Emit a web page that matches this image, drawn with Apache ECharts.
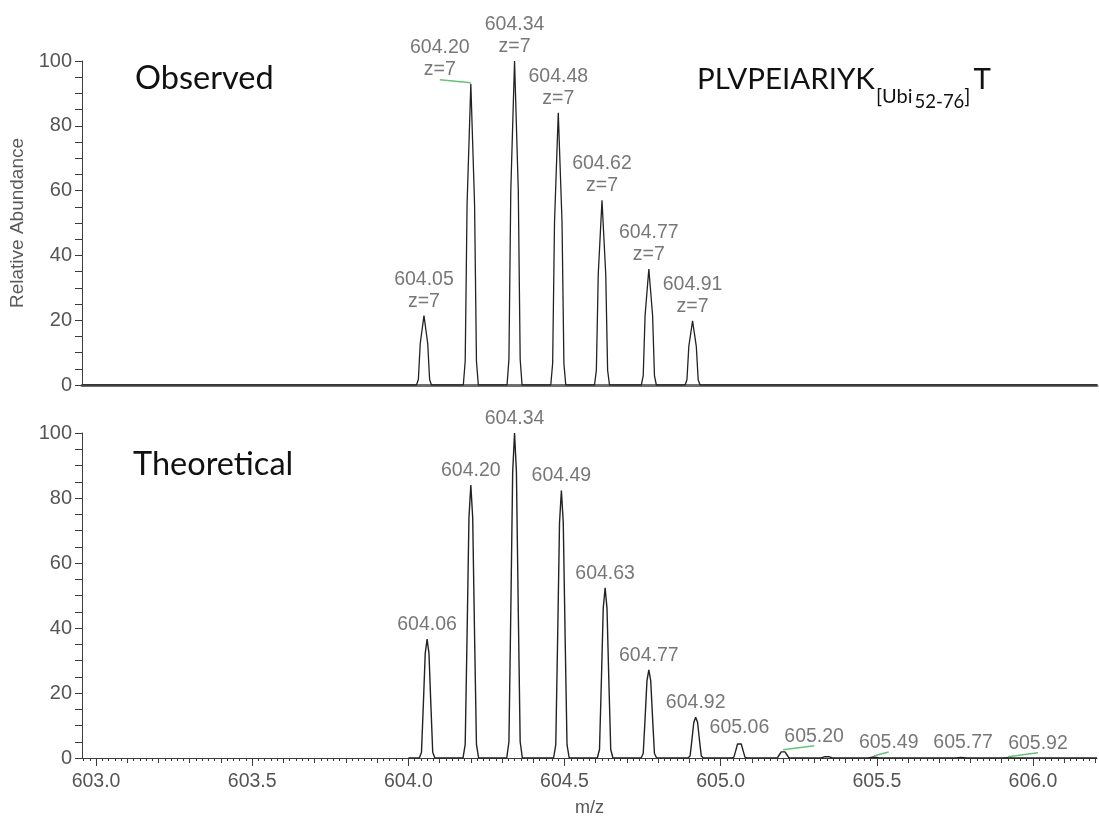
<!DOCTYPE html>
<html>
<head>
<meta charset="utf-8">
<script src="https://cdn.jsdelivr.net/npm/echarts@6/dist/echarts.min.js"></script>
<style>
  html, body { margin: 0; padding: 0; background: #ffffff; }
  #chart { width: 1099px; height: 820px; }
</style>
</head>
<body>
<div id="chart"></div>
<script>
// ---- Observed isotope cluster (centroid m/z, relative abundance, charge) ----
const observedMz = [604.05, 604.20, 604.34, 604.48, 604.62, 604.77, 604.91];
const observedAbundance = [21.4, 93.0, 100, 84.0, 57.0, 35.8, 19.8];
const observedCharge = [7, 7, 7, 7, 7, 7, 7];

// Observed profile trace [m/z, relative abundance]
const observedProfile = [
  [602.955, 0],
  [604.026, 0], [604.032, 1.7], [604.038, 12.8], [604.05, 21.4], [604.062, 12.8], [604.068, 1.7], [604.074, 0],
  [604.176, 0], [604.182, 7.4], [604.188, 55.8], [604.20, 93.0], [604.212, 55.8], [604.218, 7.4], [604.224, 0],
  [604.316, 0], [604.322, 8.0], [604.328, 60.0], [604.34, 100], [604.352, 60.0], [604.358, 8.0], [604.364, 0],
  [604.456, 0], [604.462, 6.7], [604.468, 50.4], [604.48, 84.0], [604.492, 50.4], [604.498, 6.7], [604.504, 0],
  [604.596, 0], [604.602, 4.6], [604.608, 34.2], [604.62, 57.0], [604.632, 34.2], [604.638, 4.6], [604.644, 0],
  [604.746, 0], [604.752, 2.9], [604.758, 21.5], [604.77, 35.8], [604.782, 21.5], [604.788, 2.9], [604.794, 0],
  [604.886, 0], [604.892, 1.6], [604.898, 11.9], [604.91, 19.8], [604.922, 11.9], [604.928, 1.6], [604.934, 0],
  [606.205, 0]
];

// ---- Theoretical isotope distribution ----
const theoreticalMz = [604.06, 604.20, 604.34, 604.49, 604.63, 604.77, 604.92, 605.06, 605.20, 605.49, 605.77, 605.92];
const theoreticalAbundance = [36.6, 84.0, 100, 82.3, 52.4, 27.1, 12.5, 4.9, 2.2, 0.3, 0.15, 0.1];

// Theoretical profile trace [m/z, relative abundance]
const theoreticalProfile = [
  [604.000, 0],
  [604.035, 0], [604.042, 1.8], [604.048, 16.5], [604.054, 32.2], [604.06, 36.6], [604.066, 32.2], [604.072, 16.5], [604.078, 1.8], [604.085, 0],
  [604.175, 0], [604.182, 4.2], [604.188, 37.8], [604.194, 73.9], [604.20, 84.0], [604.206, 73.9], [604.212, 37.8], [604.218, 4.2], [604.225, 0],
  [604.315, 0], [604.322, 5.0], [604.328, 45.0], [604.334, 88.0], [604.34, 100], [604.346, 88.0], [604.352, 45.0], [604.358, 5.0], [604.365, 0],
  [604.465, 0], [604.472, 4.1], [604.478, 37.0], [604.484, 72.4], [604.49, 82.3], [604.496, 72.4], [604.502, 37.0], [604.508, 4.1], [604.515, 0],
  [604.605, 0], [604.612, 2.6], [604.618, 23.6], [604.624, 46.1], [604.63, 52.4], [604.636, 46.1], [604.642, 23.6], [604.648, 2.6], [604.655, 0],
  [604.745, 0], [604.752, 1.4], [604.758, 12.2], [604.764, 23.8], [604.77, 27.1], [604.776, 23.8], [604.782, 12.2], [604.788, 1.4], [604.795, 0],
  [604.895, 0], [604.902, 0.6], [604.908, 5.6], [604.914, 11.0], [604.92, 12.5], [604.926, 11.0], [604.932, 5.6], [604.938, 0.6], [604.945, 0],
  [605.035, 0], [605.042, 0.2], [605.048, 2.2], [605.054, 4.3], [605.06, 4.9], [605.066, 4.3], [605.072, 2.2], [605.078, 0.2], [605.085, 0],
  [605.175, 0], [605.182, 0.1], [605.188, 1.0], [605.194, 1.9], [605.20, 2.2], [605.206, 1.9], [605.212, 1.0], [605.218, 0.1], [605.225, 0],
  [605.322, 0], [605.334, 0.4], [605.34, 0.7], [605.346, 0.4], [605.358, 0],
  [605.472, 0], [605.49, 0.3], [605.508, 0],
  [605.752, 0], [605.77, 0.15], [605.788, 0],
  [605.902, 0], [605.92, 0.1], [605.938, 0],
  [606.205, 0]
];

// ---- Axis ticks and labels ----
const mzRange = [602.955, 606.205];
const xTickLabels = [603.0, 603.5, 604.0, 604.5, 605.0, 605.5, 606.0];
const yTickLabels = [0, 20, 40, 60, 80, 100];

// tenth and fiftieth-of-a-unit tick marks along m/z
const tenthTicks = [];
for (let i = 0; i <= 32; i++) tenthTicks.push(Math.round((603.0 + i * 0.1) * 1000) / 1000);
const fineTicks = [];
for (let i = 0; i <= 162; i++) fineTicks.push(Math.round((602.96 + i * 0.02) * 1000) / 1000);

// label placement tweaks (horizontal shift in px) for crowded peaks
const observedLabelShift = { 1: -31 };
const theoreticalLabelShift = { 8: 31, 9: 15, 10: 2, 11: 30 };
const leaderColor = '#66c277';

const sansFont = '"Liberation Sans", Arial, sans-serif';
const labelGray = '#555555';

function valueAxisX(gridIndex, extra) {
  return Object.assign({
    type: 'value', gridIndex: gridIndex, min: mzRange[0], max: mzRange[1],
    position: 'bottom', splitLine: { show: false }, axisLabel: { show: false },
    axisTick: { show: false }, axisLine: { show: false }, silent: true
  }, extra);
}

function valueAxisY(gridIndex, extra) {
  return Object.assign({
    type: 'value', gridIndex: gridIndex, min: 0, max: 100, interval: 20,
    splitLine: { show: false },
    axisLine: { show: true, lineStyle: { color: '#3c3c3c', width: 1 } },
    axisTick: { show: true, length: 7, lineStyle: { color: '#3c3c3c' } },
    minorTick: { show: true, splitNumber: 4, length: 7, lineStyle: { color: '#3c3c3c' } },
    axisLabel: {
      show: true, margin: 10, fontSize: 20, fontFamily: sansFont, color: labelGray,
      customValues: yTickLabels
    }
  }, extra);
}

function labelItems(mz, ab, shifts, fmt) {
  return mz.map((m, i) => ({
    value: [m, ab[i]],
    label: { offset: [shifts[i] || 0, 0], formatter: fmt(i) }
  }));
}

const option = {
  animation: false,
  backgroundColor: '#ffffff',
  grid: [
    { left: 82, top: 61, width: 1015, height: 324 },
    { left: 82, top: 433, width: 1015, height: 325 }
  ],
  xAxis: [
    // upper panel: heavy baseline only
    valueAxisX(0, { axisLine: { show: true, lineStyle: { color: '#6e6e6e', width: 3 } } }),
    // lower panel: labelled half-unit ticks
    valueAxisX(1, {
      axisLine: { show: true, lineStyle: { color: '#3c3c3c', width: 1 } },
      axisTick: { show: true, length: 8, customValues: xTickLabels, lineStyle: { color: '#3c3c3c' } },
      axisLabel: {
        show: true, customValues: xTickLabels, margin: 14, fontSize: 19.5,
        fontFamily: sansFont, color: labelGray, formatter: v => v.toFixed(1)
      },
      name: 'm/z', nameLocation: 'middle', nameGap: 41,
      nameTextStyle: { fontSize: 18, fontFamily: sansFont, color: labelGray }
    }),
    valueAxisX(1, { axisTick: { show: true, length: 5, customValues: tenthTicks, lineStyle: { color: '#3c3c3c' } } }),
    valueAxisX(1, { axisTick: { show: true, length: 3, customValues: fineTicks, lineStyle: { color: '#3c3c3c' } } })
  ],
  yAxis: [
    valueAxisY(0, {
      name: 'Relative Abundance', nameLocation: 'middle', nameGap: 51, nameRotate: 90,
      nameTextStyle: { fontSize: 19, fontFamily: sansFont, color: '#5a5a5a' }
    }),
    valueAxisY(1, {})
  ],
  series: [
    {
      name: 'Observed', type: 'line', xAxisIndex: 0, yAxisIndex: 0,
      data: observedProfile, showSymbol: false, symbol: 'none', silent: true,
      lineStyle: { color: '#222222', width: 1.3 }, z: 3
    },
    {
      name: 'Observed labels', type: 'scatter', xAxisIndex: 0, yAxisIndex: 0,
      symbolSize: 1, itemStyle: { color: 'transparent' }, silent: true,
      data: labelItems(observedMz, observedAbundance, observedLabelShift,
        i => () => observedMz[i].toFixed(2) + '\nz=' + observedCharge[i]),
      label: {
        show: true, position: 'top', distance: 3, fontSize: 19.5, lineHeight: 22,
        fontFamily: sansFont, color: labelGray, align: 'center'
      }
    },
    {
      name: 'Theoretical', type: 'line', xAxisIndex: 1, yAxisIndex: 1,
      data: theoreticalProfile, showSymbol: false, symbol: 'none', silent: true,
      lineStyle: { color: '#222222', width: 1.4 }, z: 3
    },
    {
      name: 'Theoretical labels', type: 'scatter', xAxisIndex: 1, yAxisIndex: 1,
      symbolSize: 1, itemStyle: { color: 'transparent' }, silent: true,
      data: labelItems(theoreticalMz, theoreticalAbundance, theoreticalLabelShift,
        i => () => theoreticalMz[i].toFixed(2)),
      label: {
        show: true, position: 'top', distance: 3, fontSize: 19.5, lineHeight: 22,
        fontFamily: sansFont, color: labelGray, align: 'center'
      }
    }
  ]
};

const chart = echarts.init(document.getElementById('chart'), null, { renderer: 'canvas' });
chart.setOption(option);

// panel captions
const titleFont = 'Lato, "Open Sans", sans-serif';
const graphics = [
  {
    type: 'text', x: 135, y: 79, silent: true,
    style: { text: 'Observed', fontSize: 32.5, fontFamily: titleFont, fill: '#111111', align: 'left', verticalAlign: 'middle' }
  },
  {
    type: 'text', x: 133, y: 465, silent: true,
    style: { text: 'Theoretical', fontSize: 32.5, fontFamily: titleFont, fill: '#111111', align: 'left', verticalAlign: 'middle' }
  },
  {
    type: 'text', x: 697, y: 64, silent: true,
    style: {
      text: '{m|PLVPEIARIYK}{s1|[Ubi}{ss|52-76}{s2|]}{t|T}',
      fill: '#111111', align: 'left', verticalAlign: 'top',
      rich: {
        m: { fontSize: 29.5, fontFamily: titleFont, verticalAlign: 'top', lineHeight: 30 },
        s1: { fontSize: 20, fontFamily: titleFont, verticalAlign: 'top', lineHeight: 20, padding: [23, 0, 0, 1] },
        ss: { fontSize: 18.5, fontFamily: titleFont, verticalAlign: 'top', lineHeight: 18.5, padding: [29, 0, 0, 2] },
        s2: { fontSize: 20, fontFamily: titleFont, verticalAlign: 'top', lineHeight: 20, padding: [23, 0, 0, 0] },
        t: { fontSize: 29.5, fontFamily: titleFont, verticalAlign: 'top', lineHeight: 30, padding: [0, 0, 0, 3] }
      }
    }
  }
];

// leader lines joining displaced labels to their peaks
function leader(xi, yi, mz, ab, dx, dist) {
  const p = chart.convertToPixel({ xAxisIndex: xi, yAxisIndex: yi }, [mz, ab]);
  return {
    type: 'line', silent: true, z: 10,
    shape: { x1: p[0], y1: p[1] - 1, x2: p[0] + dx, y2: p[1] - dist },
    style: { stroke: leaderColor, lineWidth: 1.5 }
  };
}
graphics.push(leader(0, 0, observedMz[1], observedAbundance[1], observedLabelShift[1], 4));
[8, 9, 11].forEach(i => {
  graphics.push(leader(1, 1, theoreticalMz[i], theoreticalAbundance[i], theoreticalLabelShift[i], 5));
});

chart.setOption({ graphic: graphics });
</script>
</body>
</html>
